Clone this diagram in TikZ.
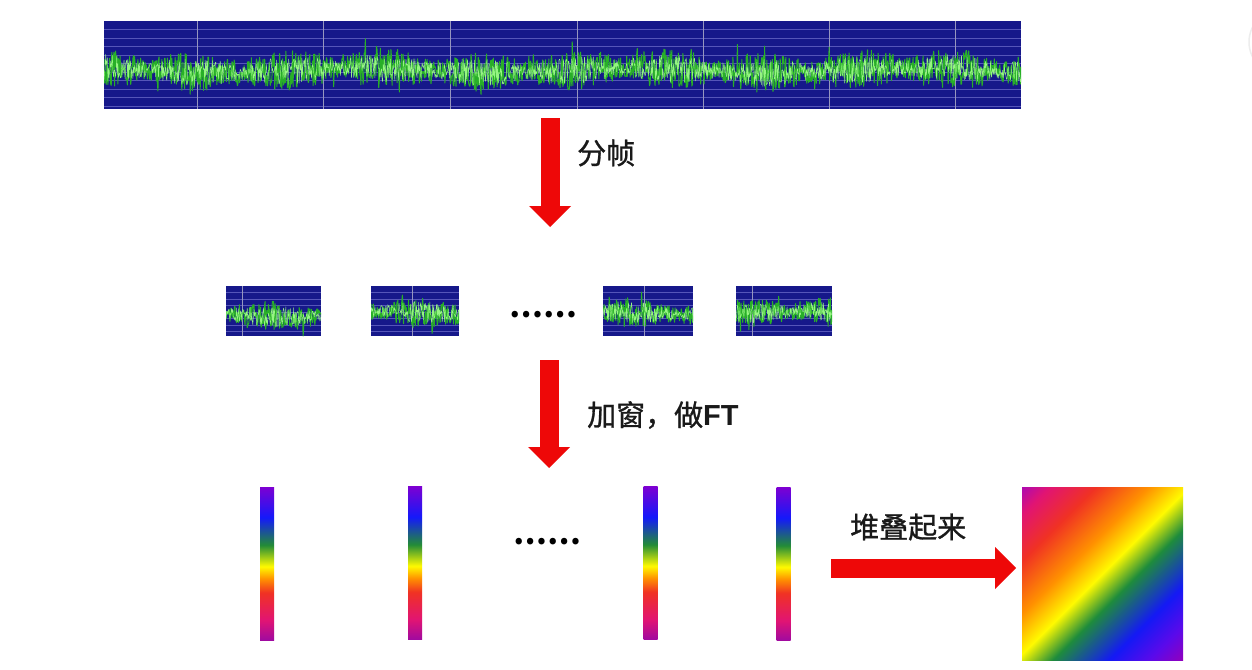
\documentclass[tikz,border=0pt]{standalone}
\usepackage{fontspec}
\newfontfamily\cjk{Noto Sans CJK SC}[FakeBold=1]
\newfontfamily\cjkdots{Noto Sans CJK SC}
\newfontfamily\latinb{Liberation Sans}
\usetikzlibrary{arrows.meta}
\definecolor{panelblue}{RGB}{22,24,138}
\definecolor{gridhc}{RGB}{85,85,185}
\definecolor{gridvc}{RGB}{150,150,190}
\definecolor{wavedark}{RGB}{40,175,40}
\definecolor{wavelight}{RGB}{150,245,130}
\definecolor{arrowred}{RGB}{238,8,8}
\definecolor{textblack}{RGB}{25,25,25}
\definecolor{bPur}{RGB}{160,10,160}
\definecolor{bPink}{RGB}{225,20,115}
\definecolor{bRed}{RGB}{240,50,35}
\definecolor{bOrange}{RGB}{255,145,0}
\definecolor{bYellow}{RGB}{255,250,0}
\definecolor{bGreen}{RGB}{35,140,55}
\definecolor{bBlue}{RGB}{20,25,250}
\definecolor{bPurT}{RGB}{125,0,210}
\definecolor{qPur}{RGB}{145,0,190}
\definecolor{qViolet}{RGB}{90,10,235}
\definecolor{qBlue}{RGB}{20,25,245}
\definecolor{qGreen}{RGB}{30,140,60}
\definecolor{qMag}{RGB}{175,10,175}
\pgfdeclareverticalshading{specbar}{100bp}{color(0bp)=(bPur); color(25bp)=(bPur); color(31.5bp)=(bPink); color(40.5bp)=(bRed); color(45bp)=(bOrange); color(49bp)=(bYellow); color(56bp)=(bGreen); color(65bp)=(bBlue); color(75bp)=(bPurT); color(100bp)=(bPurT)}
\pgfdeclareverticalshading{specsq}{100bp}{color(0bp)=(qPur); color(14.6bp)=(qPur); color(21.7bp)=(qViolet); color(30.2bp)=(qBlue); color(42.2bp)=(qGreen); color(50bp)=(bYellow); color(58.5bp)=(bOrange); color(69.8bp)=(bRed); color(79.7bp)=(bPink); color(85.4bp)=(qMag); color(100bp)=(qMag)}
% name, x0, y0, x1, y1, seed, grid gap, vertical lines, amplitude
\newcommand\wavepanel[9]{%
  \node[panelbg, minimum width={#4-#2}, minimum height={#5-#3}] (#1) at ({(#2+#4)/2},{(#3+#5)/2}) {};
  \begin{scope}
    \clip (#2,#3) rectangle (#4,#5);
    \foreach \gk in {1,...,14} {\draw[gridh] (#2,{#3+\gk*#7}) -- (#4,{#3+\gk*#7});}
    \foreach \vx in {#8} {\draw[gridv] (\vx,#3) -- (\vx,#5);}
    \pgfmathsetseed{#6}
    \pgfmathsetmacro\wyc{(#3+#5)/2+0.06*(#5-#3)}
    \pgfmathtruncatemacro\wns{(#4-#2)*1.8}
    \draw[wavedk] plot[domain=#2:#4, samples=\wns, variable=\ww]
      (\ww,{\wyc + 2.5*sin(1.3*\ww+#6*23) + #9*(0.5+0.5*abs(sin(1.9*\ww+#6*37)))*rand + #9*0.7*(rnd>0.93)*rand});
    \draw[wavelt] plot[domain=#2:#4, samples=\wns, variable=\ww]
      (\ww,{\wyc + 2.5*sin(1.3*\ww+#6*23) + 0.7*#9*(0.5+0.5*abs(sin(1.9*\ww+#6*37)))*rand});
  \end{scope}
}
\begin{document}
\begin{tikzpicture}[x=1pt,y=-1pt,
  panelbg/.style={fill=panelblue, inner sep=0pt, outer sep=0pt, draw=none},
  gridh/.style={draw=gridhc, line width=0.5pt},
  gridv/.style={draw=gridvc, line width=0.7pt},
  wavedk/.style={draw=wavedark, line width=1.0pt, line join=round},
  wavelt/.style={draw=wavelight, line width=0.45pt, line join=round},
  specbarnode/.style={shade, shading=specbar, inner sep=0pt, outer sep=0pt, minimum width=14pt, minimum height=153pt},
  lbl/.style={font=\cjk\fontsize{29}{32}\selectfont, text=textblack, inner sep=0pt, anchor=west},
  dots/.style={font=\cjkdots\fontsize{30}{34}\selectfont, text=black, inner sep=0pt},
  bigarrow/.style={draw=arrowred, line width=19pt, -{Triangle[width=42pt,length=21pt,line width=0pt]}}
]
\useasboundingbox (0,0) rectangle (1252,669);
\fill[white] (0,0) rectangle (1252,669);
\draw[black!7, line width=1.5pt] (1282,42) circle (33);

% top signal
\wavepanel{sig}{104}{21}{1021}{109}{7}{8.5}{197,323,450,577,703,829,955}{20}

% frames
\wavepanel{f1}{226}{286}{321}{336}{3}{6.5}{242}{15}
\wavepanel{f2}{371}{286}{459}{336}{5}{6.5}{412}{15}
\wavepanel{f3}{603}{286}{693}{336}{9}{6.5}{644}{15}
\wavepanel{f4}{736}{286}{832}{336}{13}{6.5}{752}{15}
\node[dots] (d1) at (543,315) {\textbf{……}};

% arrow 1
\coordinate (a1s) at (550,118);
\coordinate (a1e) at (550,227);
\draw[bigarrow] (a1s) -- (a1e);
\node[lbl] (l1) at (577,153) {分帧};

% arrow 2
\coordinate (a2s) at (549,360);
\coordinate (a2e) at (549,468);
\draw[bigarrow] (a2s) -- (a2e);
\node[lbl] (l2) at (587,415) {加窗，做{\latinb\bfseries FT}};

% spectra
\node[specbarnode] (b1) at (267,563.5) {};
\node[specbarnode] (b2) at (415,563) {};
\node[specbarnode] (b3) at (650.5,563) {};
\node[specbarnode] (b4) at (783.5,564) {};
\node[dots] (d2) at (547,542) {\textbf{……}};

% arrow 3
\coordinate (a3s) at (831,568);
\coordinate (a3e) at (1016,568);
\draw[bigarrow] (a3s) -- (a3e);
\node[lbl] (l3) at (850,527) {堆叠起来};

% stacked spectrogram
\node[shade, shading=specsq, shading angle=45, inner sep=0pt, outer sep=0pt, minimum width=161pt, minimum height=173pt] (sq) at (1102.5,573.5) {};
\end{tikzpicture}
\end{document}
